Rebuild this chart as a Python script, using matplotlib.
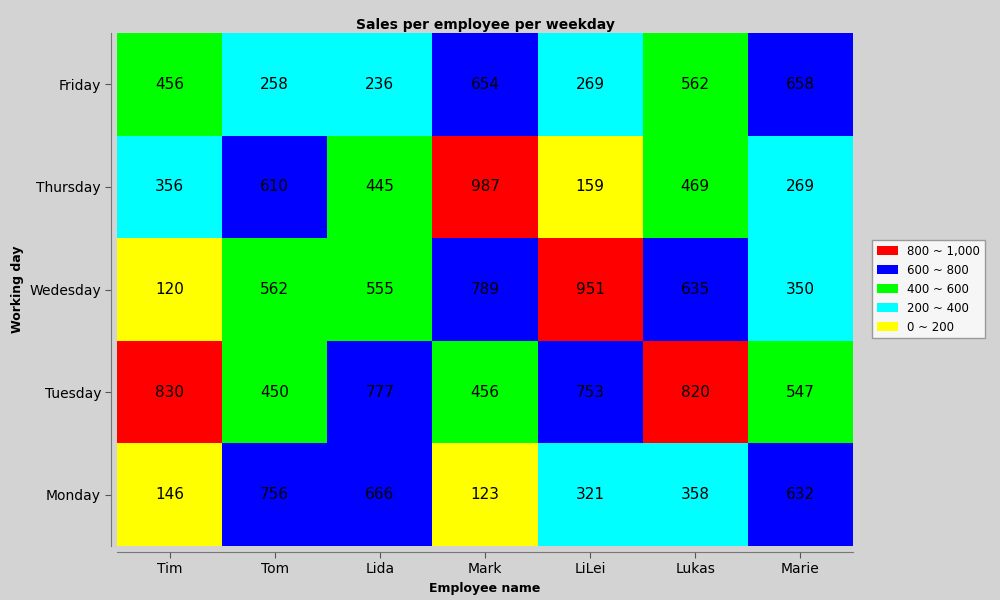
import matplotlib
matplotlib.use("Agg")
import matplotlib.pyplot as plt
import numpy as np
from matplotlib.colors import ListedColormap, BoundaryNorm
from matplotlib.patches import Patch

employees = ["Tim", "Tom", "Lida", "Mark", "LiLei", "Lukas", "Marie"]
days = ["Monday", "Tuesday", "Wedesday", "Thursday", "Friday"]
values = [
    [146, 756, 666, 123, 321, 358, 632],
    [830, 450, 777, 456, 753, 820, 547],
    [120, 562, 555, 789, 951, 635, 350],
    [356, 610, 445, 987, 159, 469, 269],
    [456, 258, 236, 654, 269, 562, 658],
]
bounds = [0, 200, 400, 600, 800, 1000]
colors = ["#ffff00", "#00ffff", "#00ff00", "#0000ff", "#ff0000"]
labels = ["0 ~ 200", "200 ~ 400", "400 ~ 600", "600 ~ 800", "800 ~ 1,000"]

bg = "#d3d3d3"
fig = plt.figure(figsize=(10, 6), dpi=100, facecolor=bg)
ax = fig.add_axes([0.117, 0.09, 0.736, 0.855])
ax.set_facecolor(bg)
cmap = ListedColormap(colors)
norm = BoundaryNorm(bounds, cmap.N)
data = np.array(values)
ax.pcolormesh(np.arange(len(employees) + 1) - 0.5, np.arange(len(days) + 1) - 0.5,
              data, cmap=cmap, norm=norm)
for i in range(len(days)):
    for j in range(len(employees)):
        ax.text(j, i, str(data[i, j]), ha="center", va="center", fontsize=11, color="black")
ax.set_xlim(-0.5, len(employees) - 0.5)
ax.set_ylim(-0.5, len(days) - 0.5)
ax.set_xticks(range(len(employees)))
ax.set_xticklabels(employees, fontweight="bold", fontsize=9)
ax.set_yticks(range(len(days)))
ax.set_yticklabels(days, fontweight="bold", fontsize=9)
ax.tick_params(colors="#555555", labelcolor="black", length=4)
for s in ["top", "right"]:
    ax.spines[s].set_visible(False)
for s in ["left", "bottom"]:
    ax.spines[s].set_position(("outward", 4))
    ax.spines[s].set_color("#777777")
ax.set_xlabel("Employee name", fontweight="bold", fontsize=9)
ax.set_ylabel("Working day", fontweight="bold", fontsize=9)
ax.set_title("Sales per employee per weekday", fontweight="bold", fontsize=10, pad=3)
handles = [Patch(facecolor=c, label=l) for c, l in zip(colors[::-1], labels[::-1])]
leg = fig.legend(handles=handles, loc="center left", bbox_to_anchor=(0.866, 0.518),
                 fontsize=8.5, frameon=True, fancybox=False, edgecolor="#888888",
                 handlelength=1.8, handleheight=0.8)
leg.get_frame().set_facecolor("white")
fig.savefig("out.png", dpi=100, facecolor=bg)
